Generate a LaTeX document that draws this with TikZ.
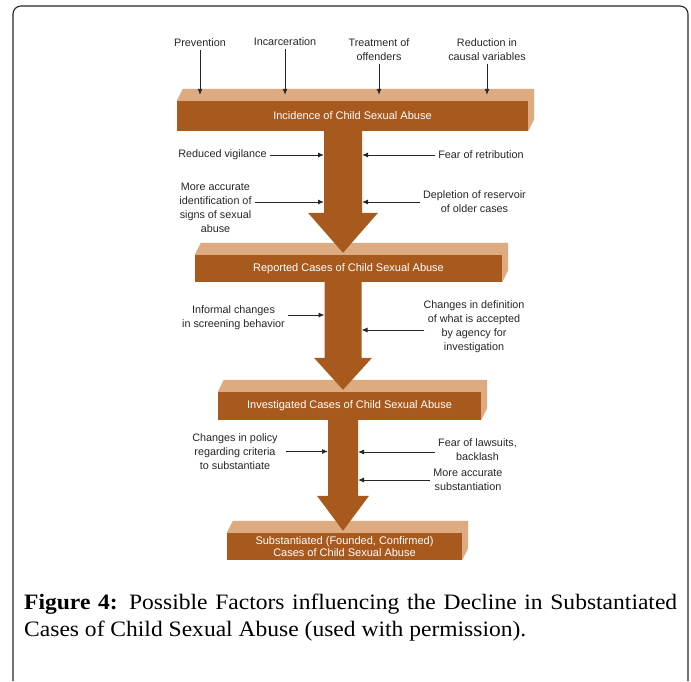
\documentclass[tikz,border=0pt]{standalone}
\usepackage{fontspec}
\setmainfont{Liberation Serif}[FakeStretch=1.07]
\newfontfamily\diagfont{Liberation Sans}
\usetikzlibrary{arrows.meta, positioning, calc}
\definecolor{abusebrown}{RGB}{168,90,30}
\definecolor{abusetan}{RGB}{222,170,128}

\begin{document}
\begin{tikzpicture}[
  x=1pt, y=-1pt,
  stage/.style={rectangle, fill=abusebrown, text=white, align=center, inner sep=0pt, font=\diagfont\fontsize{11}{11.5}\selectfont},
  factor/.style={align=center, inner sep=3pt, text=black!85, font=\diagfont\fontsize{10.8}{14}\selectfont},
  push/.style={draw=black!85, line width=0.9pt, -{Latex[length=6pt, width=5pt]}}
]
\useasboundingbox (0,0) rectangle (691,681);
\draw[black!85, line width=1.1pt, rounded corners=8pt] (13,681) -- (13,6) -- (688,6) -- (688,681);

\node[stage, minimum width=351pt, minimum height=30pt] (incid) at (352.5,116) {Incidence of Child Sexual Abuse};
\node[stage, minimum width=307pt, minimum height=27pt] (report) at (348.5,268.5) {Reported Cases of Child Sexual Abuse};
\node[stage, minimum width=263pt, minimum height=28pt] (invest) at (349.5,406) {Investigated Cases of Child Sexual Abuse};
\node[stage, minimum width=235pt, minimum height=27pt] (subst) at (344.5,546.5) {Substantiated (Founded, Confirmed)\\Cases of Child Sexual Abuse};

\foreach \b in {incid, report, invest, subst}
  \fill[abusetan] (\b.north west) -- ++(6,-12) -- ($(\b.north east)+(6,-12)$) -- ($(\b.south east)+(6,-12)$) -- (\b.south east) -- (\b.north east) -- cycle;

\coordinate (spine) at (343,0);
\foreach \a/\b/\sw/\hw/\hl in {incid/report/19/35/40, report/invest/18.5/29/32, invest/subst/15/26/35} {
  \fill[abusebrown] ($(\a.south -| spine)+(-\sw,-1)$) -- ($(\b.north -| spine)+(-\sw,-2-\hl)$) -- ($(\b.north -| spine)+(-\hw,-2-\hl)$) -- ($(\b.north -| spine)+(0,-2)$) -- ($(\b.north -| spine)+(\hw,-2-\hl)$) -- ($(\b.north -| spine)+(\sw,-2-\hl)$) -- ($(\a.south -| spine)+(\sw,-1)$) -- cycle;
  \coordinate (\a-left) at ($(\a.south -| spine)+(-\sw,0)$);
  \coordinate (\a-right) at ($(\a.south -| spine)+(\sw,0)$);
}

\node[factor] (prev) at (200,43) {Prevention};
\node[factor] (incar) at (285,42) {Incarceration};
\node[factor] (treat) at (379,50) {Treatment of\\offenders};
\node[factor] (reduc) at (487,50) {Reduction in\\causal variables};
\coordinate (incid-top) at ($(incid.north)+(0,-6)$);
\foreach \f in {prev, incar, treat, reduc}
  \draw[push] (\f.south) -- (\f.south |- incid-top);

\node[factor] (vigil) at (222.5,155) {Reduced vigilance};
\node[factor] (retrib) at (481,155) {Fear of retribution};
\node[factor] (ident) at (215.5,207.5) {More accurate\\identification of\\signs of sexual\\abuse};
\node[factor] (deplet) at (474.5,202) {Depletion of reservoir\\of older cases};
\draw[push] (vigil.east) -- (vigil.east -| incid-left);
\draw[push] (retrib.west) -- (retrib.west -| incid-right);
\draw[push] ($(ident.east)+(0,-5.5)$) -- ($(ident.east -| incid-left)+(0,-5.5)$);
\draw[push] (deplet.west) -- (deplet.west -| incid-right);

\node[factor] (inform) at (233.5,317.5) {Informal changes\\in screening behavior};
\node[factor] (defin) at (474,327) {Changes in definition\\of what is accepted\\by agency for\\investigation};
\draw[push] ($(inform.east)+(0,-2.5)$) -- ($(inform.east -| report-left)+(0,-2.5)$);
\draw[push] ($(defin.west)+(4,3)$) -- ($(defin.west -| report-right)+(0,3)$);

\node[factor] (policy) at (235,451.5) {Changes in policy\\regarding criteria\\to substantiate};
\node[factor] (lawsuit) at (477.5,450) {Fear of lawsuits,\\backlash};
\node[factor] (substn) at (468,480) {More accurate\\substantiation};
\draw[push] ($(policy.east)+(5,0)$) -- (policy.east -| invest-left);
\draw[push] ($(lawsuit.west)+(0,2)$) -- ($(lawsuit.west -| invest-right)+(0,2)$);
\draw[push] (substn.west) -- (substn.west -| invest-right);

\node[anchor=north west, text width=653pt, align=justify, inner sep=0pt, font=\fontsize{22}{27}\selectfont] (caption) at (24,594) {\noindent\textbf{Figure 4:} Possible Factors influencing the Decline in Substantiated Cases of Child Sexual Abuse (used with permission).};

\end{tikzpicture}
\end{document}
